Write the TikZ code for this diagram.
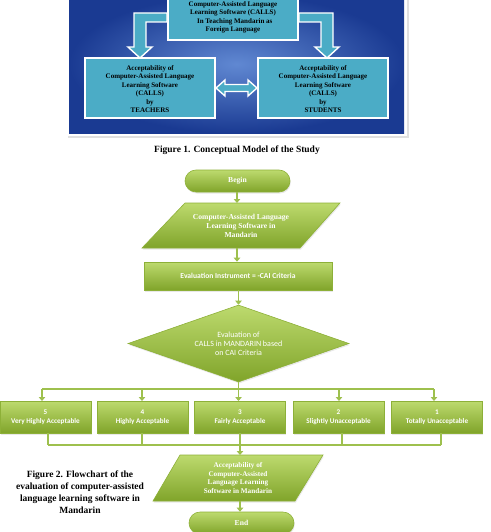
\documentclass[tikz,border=0pt]{standalone}
\usepackage{fontspec}
\setmainfont{Liberation Serif}
\newfontfamily\calfont{Carlito}
\usetikzlibrary{arrows.meta,shapes.geometric,shadows}
\definecolor{bgdark}{HTML}{1A3A92}
\definecolor{bglight}{HTML}{6088D2}
\definecolor{aqua}{HTML}{4BACC6}
\definecolor{gtop}{HTML}{BDDA6E}
\definecolor{gbot}{HTML}{80A42A}
\definecolor{gedge}{HTML}{8DB038}
\definecolor{gline}{HTML}{9EC04E}
\begin{document}
\begin{tikzpicture}[x=1pt,y=-1pt,
  calbox/.style={draw=white, line width=1.6pt, fill=aqua},
  blockarrow/.style={draw=white, line width=1.4pt, fill=aqua, line join=miter},
  fonetext/.style={font=\fontsize{7}{8.4}\selectfont\bfseries, text=black, align=center, inner sep=0pt},
  greenfill/.style={top color=gtop, bottom color=gbot, draw=gedge, line width=0.6pt,
    drop shadow={opacity=0.18, shadow xshift=0.8pt, shadow yshift=-1.5pt}},
  gbox/.style={greenfill, rectangle, text=white, align=center, inner sep=0pt},
  serifw/.style={font=\fontsize{7.6}{9}\selectfont\bfseries, text=white, align=center, inner sep=0pt},
  calw/.style={font=\calfont\fontsize{7.2}{9}\selectfont\bfseries},
  conn/.style={draw=gline, line width=1.8pt},
  arr/.style={conn, -{Triangle[length=4pt,width=6.5pt]}},
  caption/.style={font=\fontsize{9.5}{12}\selectfont\bfseries, align=center, inner sep=0pt}]
\useasboundingbox (0,0) rectangle (490,532);
% ---------- Figure 1 ----------
\fill[black!12] (68,-5) rectangle (409,138);
\fill[white] (66,-5) rectangle (407,136);
\shade[inner color=bglight, outer color=bgdark] (69,-5) rectangle (404,133);
\path[calbox] (168,-12) rectangle (298,40);
\node[fonetext] (topt) at (233,17.5) {Computer-Assisted Language\\Learning Software (CALLS)\\\ \ In Teaching Mandarin as\\Foreign Language};
\path[calbox] (85,58) rectangle (215,118);
\node[fonetext] (leftt) at (150,89) {Acceptability of\\Computer-Assisted Language\\Learning Software\\(CALLS)\\by\\TEACHERS};
\path[calbox] (258,58) rectangle (388,118);
\node[fonetext] (rightt) at (323,89) {Acceptability of\\Computer-Assisted Language\\Learning Software\\(CALLS)\\by\\STUDENTS};
\path[blockarrow] (167,13) -- (134,13) -- (134,47) -- (128,47) -- (140,58) -- (152,47) -- (146,47) -- (146,22) -- (167,22) -- cycle;
\path[blockarrow] (299,13) -- (333,13) -- (333,47) -- (339,47) -- (327,58) -- (315,47) -- (321,47) -- (321,22) -- (299,22) -- cycle;
\path[blockarrow] (216,88) -- (225,80) -- (225,84.5) -- (248,84.5) -- (248,80) -- (257,88) -- (248,96) -- (248,91.5) -- (225,91.5) -- (225,96) -- cycle;
\node[caption] (cap1) at (237,150) {Figure 1. Conceptual Model of the Study};
% ---------- Figure 2 ----------
\node[greenfill, rounded corners=11pt, minimum width=105pt, minimum height=22pt, serifw] (begin) at (237.5,181) {Begin};
\path[greenfill] (185,203) -- (340,203) -- (300,248) -- (142,248) -- cycle;
\node[serifw] (p1) at (241,226) {Computer-Assisted Language\\Learning Software in\\Mandarin};
\node[gbox, minimum width=188pt, minimum height=28pt, calw, font=\calfont\fontsize{7.6}{9}\selectfont\bfseries] (instr) at (238,276) {Evaluation Instrument = -CAI Criteria};
\node[greenfill, diamond, aspect=2.9, minimum width=221pt, minimum height=77pt, inner sep=0pt, text=white, align=center, font=\calfont\fontsize{8}{9.2}\selectfont] (dec) at (238.5,343.5) {Evaluation of\\CALLS in MANDARIN based\\on CAI Criteria};
\foreach \n/\x/\a/\b in {r5/45.5/5/Very Highly Acceptable, r4/142.5/4/Highly Acceptable, r3/240/3/Fairly Acceptable, r2/338.5/2/Slightly Unacceptable, r1/437/1/Totally Unacceptable}
  \node[gbox, minimum width=91pt, minimum height=32pt, calw] (\n) at (\x,417) {\a\\\b};
\path[greenfill] (180,455) -- (323,455) -- (295,501) -- (153,501) -- cycle;
\node[serifw, font=\fontsize{7.2}{8.7}\selectfont\bfseries] (p2) at (238,478) {Acceptability of\\Computer-Assisted\\Language Learning\\Software in Mandarin};
\node[greenfill, rounded corners=11pt, minimum width=105pt, minimum height=22pt, serifw] (end) at (241.5,523) {End};
\node[caption] (cap2) at (80,492) {Figure 2. Flowchart of the\\evaluation of computer-assisted\\language learning software in\\Mandarin};
% connectors
\coordinate (p1n) at (237,203);
\coordinate (p1s) at (237,248);
\coordinate (p2n) at (240,455);
\coordinate (p2s) at (240,501);
\draw[arr] (begin.south -| p1n) -- (p1n);
\draw[arr] (p1s) -- (p1s |- instr.north);
\draw[arr] (instr.south -| dec.north) -- (dec.north);
\coordinate (busA) at (238.5,389);
\coordinate (busL) at (42,389);
\coordinate (busR) at (434,389);
\draw[conn] (dec.south) -- (busA);
\draw[conn] (busL) -- (busR);
\foreach \n/\x in {r5/42, r4/142, r3/238.5, r2/339, r1/434}
  \draw[arr] (\x,389) -- (\x,401);
\coordinate (lowL) at (48,445);
\coordinate (lowR) at (441,445);
\foreach \n/\x in {r5/48, r4/142, r3/240, r2/342, r1/441}
  \draw[conn] (\x,433) -- (\x,445);
\draw[conn] (lowL) -- (lowR);
\draw[arr] (p2n |- lowL) -- (p2n);
\draw[arr] (p2s) -- (end.north -| p2s);
\end{tikzpicture}
\end{document}
